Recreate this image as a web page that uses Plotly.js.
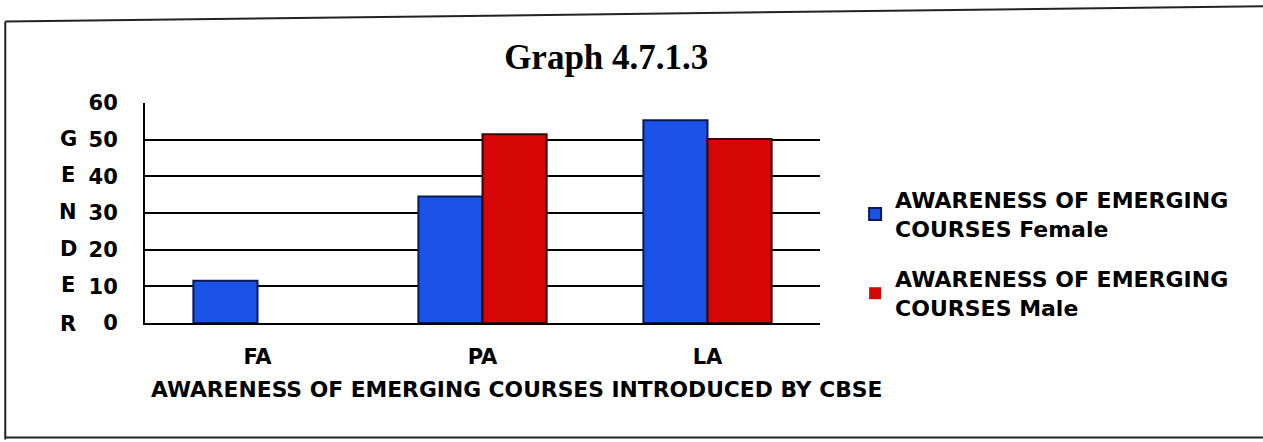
<!DOCTYPE html>
<html><head><meta charset="utf-8">
<script src="https://cdn.plot.ly/plotly-3.0.1.min.js"></script>
<style>html,body{margin:0;padding:0;background:#fff;}#chart{width:1263px;height:442px;}</style>
</head><body><div id="chart"></div>
<script>
const categories = ['FA', 'PA', 'LA'];
const femaleValues = [11.5, 34.5, 55.3];
const maleValues = [0, 51.5, 50.2];
const seriesNames = ['AWARENESS OF EMERGING<br>COURSES Female', 'AWARENESS OF EMERGING<br>COURSES Male'];
const yTicks = [0, 10, 20, 30, 40, 50, 60];
const yLetters = ['G', 'E', 'N', 'D', 'E', 'R'];
const titleText = 'Graph 4.7.1.3';
const xTitleText = 'AWARENESS OF EMERGING COURSES INTRODUCED BY CBSE';

const F = '"DejaVu Sans", sans-serif';

const traces = [
  {type:'bar', x:categories, y:femaleValues, name:seriesNames[0], legendgroup:'f',
   marker:{color:'#1b52e8', line:{color:'#0b1a55', width:2}}},
  {type:'bar', x:categories, y:maleValues, name:seriesNames[1], legendgroup:'m',
   marker:{color:'#d60606', line:{color:'#3a0505', width:[0, 2, 2]}}}
];

// letters of the vertical "GENDER" label, stacked next to the ticks
const annotations = yLetters.map((l, i) => ({
  text:'<b>'+l+'</b>', x:-0.114, xref:'paper',
  y:(yTicks[yTicks.length - 2 - i] / 60) - (i === yLetters.length - 1 ? 0.01 : 0) + 0.005, yref:'paper',
  showarrow:false, xanchor:'center', yanchor:'middle', font:{family:F, size:21, color:'#000'}
}));
annotations.push({text:'<b>'+xTitleText+'</b>', x:0.551, xref:'paper', y:-0.3, yref:'paper',
  showarrow:false, xanchor:'center', yanchor:'middle', font:{family:F, size:21.8, color:'#000'}});

const layout = {
  width:1263, height:442,
  margin:{l:145, r:443, t:103, b:119},
  paper_bgcolor:'#fff', plot_bgcolor:'#fff',
  title:{text:'<b>'+titleText+'</b>', x:0.48, xref:'container', y:0.872, yref:'container',
    xanchor:'center', yanchor:'middle', font:{family:'"Liberation Serif", serif', size:35, color:'#000'}},
  barmode:'group', bargap:0.43, bargroupgap:0,
  xaxis:{type:'category', showgrid:false, showline:true, linecolor:'#000', linewidth:2,
    ticks:'', ticklabelstandoff:14, tickfont:{family:F, size:21, color:'#000', weight:'bold'}, zeroline:false},
  yaxis:{range:[0,60], tickvals:yTicks, showgrid:true, gridcolor:'#000', gridwidth:2,
    showline:true, linecolor:'#000', linewidth:2, ticks:'', ticklabelstandoff:21,
    tickfont:{family:F, size:21, color:'#000', weight:'bold'}, zeroline:false, fixedrange:true},
  showlegend:true,
  legend:{x:1.052, xanchor:'left', y:0.655, yanchor:'top', tracegroupgap:19,
    font:{family:F, size:22, color:'#000', weight:'bold'}, bgcolor:'rgba(0,0,0,0)',
    itemwidth:30},
  annotations: annotations,
  shapes:[
    {type:'line', xref:'paper', yref:'paper', x0:-0.207, x1:-0.207, y0:1.37, y1:-0.53, line:{color:'#222', width:2}},
    {type:'line', xref:'paper', yref:'paper', x0:-0.207, x1:1.66, y0:1.37, y1:1.44, line:{color:'#222', width:2}},
    {type:'line', xref:'paper', yref:'paper', x0:-0.207, x1:1.66, y0:-0.52, y1:-0.52, line:{color:'#222', width:2}}
  ]
};
Plotly.newPlot('chart', traces, layout, {displayModeBar:false, staticPlot:true});
</script></body></html>
